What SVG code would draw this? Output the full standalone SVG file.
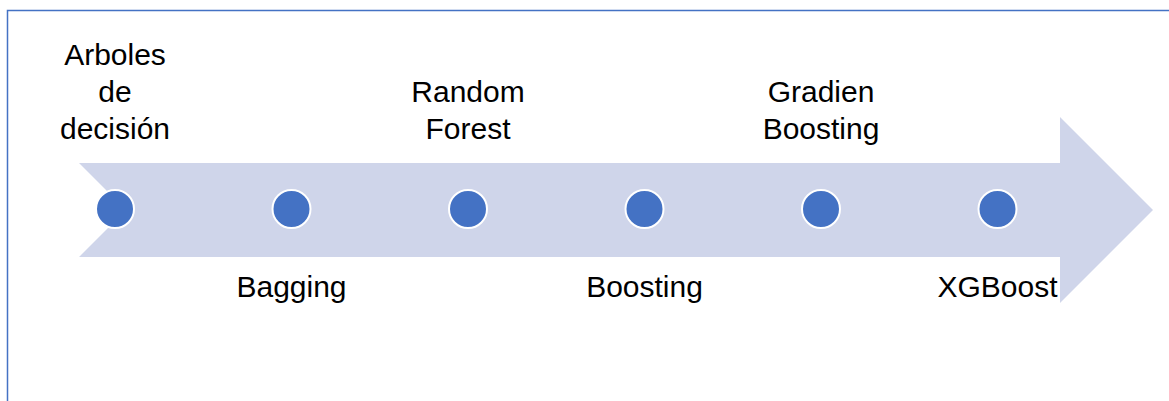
<svg xmlns="http://www.w3.org/2000/svg" width="1169" height="401" viewBox="0 0 1169 401">
  <style>
    .frame { fill: none; stroke: #4472C4; stroke-width: 1.5; }
    .band { fill: #CFD5EA; }
    .dot { fill: #4472C4; stroke: #FFFFFF; stroke-width: 2; }
    .lbl { font-family: "Liberation Sans", Arial, sans-serif; font-size: 30px; fill: #000000; text-anchor: middle; }
  </style>
  <rect id="frame" class="frame" x="7.5" y="10.5" width="1200" height="420"/>
  <!-- timeline arrow with notched tail -->
  <g id="arrow">
    <path class="band" d="M79,163 L1060,163 L1060,117 L1153,210 L1060,303 L1060,257 L79,257 L126,210 Z"/>
  </g>
  <g id="connectors"></g>
  <g id="node-arboles">
    <circle class="dot" cx="115" cy="209" r="19"/>
    <text class="lbl" x="115" y="65">Arboles</text>
    <text class="lbl" x="115" y="102">de</text>
    <text class="lbl" x="115" y="139">decisión</text>
  </g>
  <g id="node-bagging">
    <circle class="dot" cx="291.5" cy="209" r="19"/>
    <text class="lbl" x="291.5" y="297">Bagging</text>
  </g>
  <g id="node-random-forest">
    <circle class="dot" cx="468" cy="209" r="19"/>
    <text class="lbl" x="468" y="102">Random</text>
    <text class="lbl" x="468" y="139">Forest</text>
  </g>
  <g id="node-boosting">
    <circle class="dot" cx="644.5" cy="209" r="19"/>
    <text class="lbl" x="644.5" y="297">Boosting</text>
  </g>
  <g id="node-gradien">
    <circle class="dot" cx="821" cy="209" r="19"/>
    <text class="lbl" x="821" y="102">Gradien</text>
    <text class="lbl" x="821" y="139">Boosting</text>
  </g>
  <g id="node-xgboost">
    <circle class="dot" cx="997.5" cy="209" r="19"/>
    <text class="lbl" x="997.5" y="297">XGBoost</text>
  </g>
</svg>
